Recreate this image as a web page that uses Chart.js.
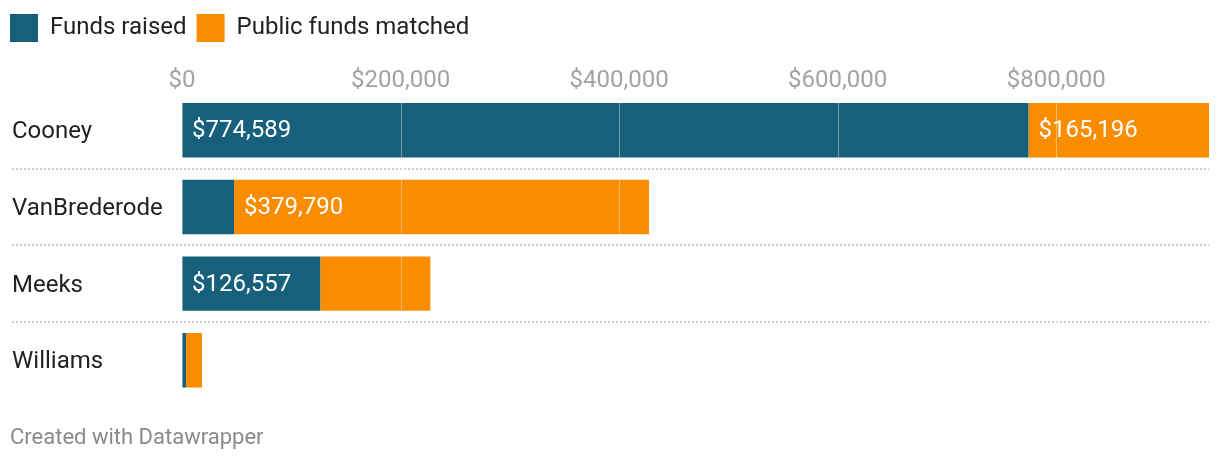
<!DOCTYPE html>
<html>
<head>
<meta charset="utf-8">
<script src="https://cdn.jsdelivr.net/npm/chart.js@4"></script>
<style>
html, body { margin: 0; padding: 0; background: #fff; }
#wrap { position: relative; width: 1220px; height: 464px; }
</style>
</head>
<body>
<div id="wrap"><canvas id="myChart"></canvas></div>
<script>
// values
const candidates = ['Cooney', 'VanBrederode', 'Meeks', 'Williams'];
const fundsRaised = [774589, 47600, 126557, 3700];
const publicMatched = [165196, 379790, 100700, 14600];
const seriesNames = ['Funds raised', 'Public funds matched'];
const tickValues = [0, 200000, 400000, 600000, 800000];

const teal = '#17607b';
const orange = '#fa8c00';

const totals = candidates.map((c, i) => fundsRaised[i] + publicMatched[i]);
const xMax = Math.max(...totals);

function money(v) {
	return '$' + Number(v).toLocaleString('en-US');
}

// white see-through grid lines over the bars, dotted row separators, value labels
const overlay = {
	id: 'overlay',
	afterLayout(chart) {
		chart.legend.left -= 12;
		chart.boxes.forEach(b => {
			if (b.position === 'bottom' && b.options && b.options.text) b.left -= 2;
		});
	},
	beforeDatasetsDraw(chart) {
		const ctx = chart.ctx;
		const y = chart.scales.y;
		ctx.save();
		ctx.strokeStyle = '#cccccc';
		ctx.lineWidth = 2;
		ctx.setLineDash([2, 2]);
		for (let i = 0; i < candidates.length - 1; i++) {
			const py = Math.round((y.getPixelForValue(i) + y.getPixelForValue(i + 1)) / 2);
			ctx.beginPath();
			ctx.moveTo(12, py);
			ctx.lineTo(chart.chartArea.right, py);
			ctx.stroke();
		}
		ctx.restore();
	},
	afterDatasetsDraw(chart) {
		const ctx = chart.ctx;
		const x = chart.scales.x;
		const area = chart.chartArea;
		ctx.save();
		ctx.strokeStyle = 'rgba(255,255,255,0.4)';
		ctx.lineWidth = 1;
		x.ticks.forEach(t => {
			const px = Math.round(x.getPixelForValue(t.value)) + 0.5;
			ctx.beginPath();
			ctx.moveTo(px, area.top);
			ctx.lineTo(px, area.bottom);
			ctx.stroke();
		});

		ctx.font = '24px Roboto';
		ctx.fillStyle = '#ffffff';
		ctx.textBaseline = 'middle';
		ctx.textAlign = 'left';
		chart.data.datasets.forEach((ds, di) => {
			chart.getDatasetMeta(di).data.forEach((bar, i) => {
				const txt = money(ds.data[i]);
				const w = bar.x - bar.base;
				if (ctx.measureText(txt).width + 20 <= w) {
					ctx.fillText(txt, bar.base + 10, bar.y + 1);
				}
			});
		});
		ctx.restore();
	}
};

const ctx = document.getElementById('myChart');
const myChart = new Chart(ctx, {
	type: 'bar',
	data: {
		labels: candidates,
		datasets: [{
			label: seriesNames[0],
			data: fundsRaised,
			backgroundColor: teal
		}, {
			label: seriesNames[1],
			data: publicMatched,
			backgroundColor: orange
		}]
	},
	options: {
		indexAxis: 'y',
		responsive: true,
		maintainAspectRatio: false,
		animation: false,
		barPercentage: 0.71,
		categoryPercentage: 1,
		layout: { padding: { left: 12, right: 11, top: 4, bottom: 0 } },
		font: { family: 'Roboto' },
		scales: {
			x: {
				stacked: true,
				position: 'top',
				min: 0,
				max: xMax,
				border: { display: false },
				grid: { display: false, drawTicks: false },
				ticks: {
					color: '#a3a3a3',
					font: { family: 'Roboto', size: 24 },
					padding: -3,
					callback: v => money(v)
				},
				afterBuildTicks(scale) {
					scale.ticks = tickValues.map(v => ({ value: v }));
				},
				afterFit(scale) { scale.height = 40; }
			},
			y: {
				stacked: true,
				border: { display: false },
				grid: { display: false },
				ticks: {
					crossAlign: 'far',
					labelOffset: 2,
					color: '#222222',
					font: { family: 'Roboto', size: 24 }
				},
				afterFit(scale) { scale.width = 170; }
			}
		},
		plugins: {
			legend: {
				align: 'start',
				labels: {
					boxWidth: 28,
					boxHeight: 28,
					padding: 10,
					color: '#222222',
					font: { family: 'Roboto', size: 24 }
				}
			},
			tooltip: { enabled: false },
			subtitle: {
				display: true,
				position: 'bottom',
				align: 'start',
				text: 'Created with Datawrapper',
				color: '#8a8a8a',
				font: { family: 'Roboto', size: 22, weight: 'normal' },
				padding: { top: 27, bottom: 12 }
			}
		}
	},
	plugins: [overlay]
});
</script>
</body>
</html>
